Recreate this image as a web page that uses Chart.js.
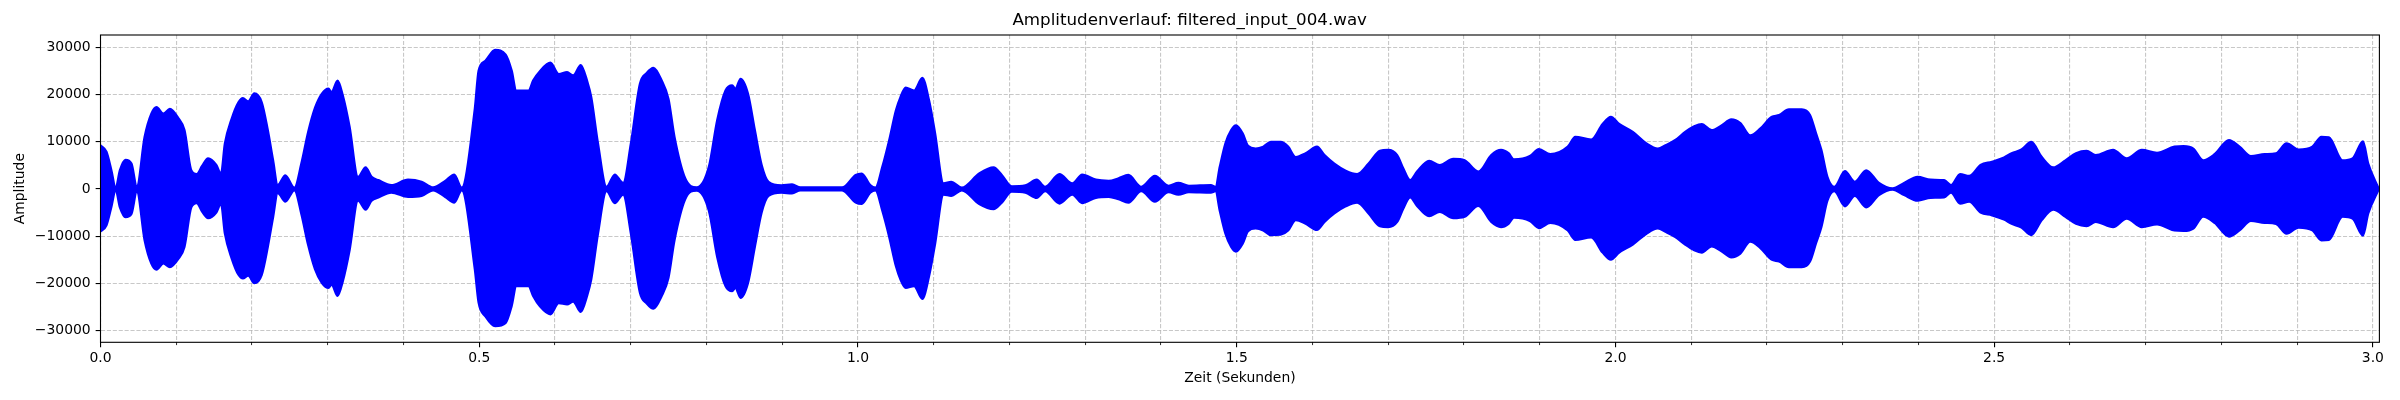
<!DOCTYPE html>
<html>
<head>
<meta charset="utf-8">
<script src="https://cdn.jsdelivr.net/npm/chart.js@4.4.1/dist/chart.umd.min.js"></script>
<style>
html,body{margin:0;padding:0;background:#ffffff;}
canvas{display:block;}
</style>
</head>
<body>
<canvas id="c" width="2400" height="400" style="width:2400px;height:400px"></canvas>
<script>
// ---- data (envelope of the waveform) ----
const times = [
  0, 0.008, 0.0145, 0.02, 0.0255, 0.033, 0.041, 0.048, 0.058, 0.067, 0.074, 0.083, 0.0916, 0.1026, 0.111, 0.12, 0.127, 0.134, 0.142, 0.153, 0.159, 0.164, 0.173, 0.182, 0.188, 0.195, 0.203, 0.213, 0.221, 0.228, 0.234, 0.244, 0.256, 0.265, 0.274, 0.283, 0.292, 0.301, 0.305, 0.313, 0.32, 0.329, 0.34, 0.35, 0.358, 0.367, 0.384, 0.406, 0.424, 0.439, 0.455, 0.467, 0.477, 0.494,
  0.499, 0.508, 0.521, 0.535, 0.543, 0.549, 0.565, 0.571, 0.58, 0.594, 0.605, 0.616, 0.624, 0.634, 0.643, 0.648, 0.657, 0.668, 0.679, 0.69, 0.7, 0.712, 0.721, 0.73, 0.741, 0.75, 0.758, 0.772, 0.787, 0.803, 0.814, 0.825, 0.834, 0.838, 0.845, 0.855, 0.864, 0.873, 0.882, 0.899, 0.913, 0.924, 0.979, 0.997,
  1.005, 1.0163, 1.023, 1.032, 1.041, 1.05, 1.056, 1.063, 1.074, 1.085, 1.094, 1.102, 1.113, 1.123, 1.137, 1.16, 1.179, 1.19, 1.203, 1.221, 1.236, 1.247, 1.266, 1.283, 1.296, 1.314, 1.331, 1.344, 1.357, 1.374, 1.392, 1.41, 1.423, 1.437, 1.466, 1.472, 1.4775, 1.485, 1.4926, 1.499,
  1.508, 1.515, 1.525, 1.535, 1.545, 1.558, 1.568, 1.578, 1.591, 1.606, 1.616, 1.629, 1.644, 1.659, 1.674, 1.689, 1.7, 1.712, 1.72, 1.729, 1.738, 1.754, 1.768, 1.786, 1.801, 1.819, 1.836, 1.849, 1.859, 1.866, 1.887, 1.899, 1.914, 1.937, 1.947, 1.968, 1.983, 1.994, 2.005, 2.023, 2.041, 2.056, 2.066, 2.079, 2.092, 2.104, 2.114, 2.127, 2.14, 2.153, 2.165, 2.178, 2.191, 2.206, 2.216, 2.229, 2.246,
  2.257, 2.265, 2.272, 2.28, 2.289, 2.303, 2.316, 2.331, 2.348, 2.366, 2.381, 2.399, 2.416, 2.434, 2.443, 2.455, 2.467, 2.482, 2.497, 2.513, 2.523, 2.536, 2.549, 2.563, 2.578, 2.594, 2.608, 2.622, 2.634, 2.657, 2.675, 2.695, 2.715, 2.738, 2.75, 2.763, 2.776, 2.791, 2.81, 2.824, 2.839, 2.857, 2.872, 2.886, 2.902, 2.92, 2.932, 2.942, 2.96, 2.973, 2.987, 2.994, 3.008
];
const upperEnvelope = [
  9300, 7900, 4000, 300, 4000, 6200, 5400, 600, 11000, 16000, 17400, 16000, 17000, 15100, 12500, 4000, 3200, 4900, 6500, 5100, 3300, 9600, 14900, 18400, 19300, 18600, 20300, 18400, 12500, 6100, 900, 2900, 300, 5400, 12100, 17200, 20200, 21300, 20600, 23000, 19900, 13200, 2600, 4600, 2600, 1900, 850, 2000, 1550, 350, 1750, 3100, 300, 17000,
  25100, 27200, 29500, 28500, 25100, 20900, 20900, 23000, 25000, 26800, 24400, 24800, 24100, 26300, 22700, 19500, 9600, 500, 3100, 1300, 9600, 22300, 24600, 25700, 23000, 19100, 11000, 2300, 350, 4700, 14600, 20900, 22000, 21300, 23400, 20200, 12500, 5100, 1550, 800, 1000, 350, 350, 3000,
  3300, 850, 300, 4700, 10300, 16700, 19500, 21500, 20900, 23600, 18800, 11800, 1200, 1550, 300, 3300, 4600, 3000, 600, 800, 2000, 500, 3200, 1200, 3100, 2000, 1750, 2300, 3000, 500, 2800, 700, 1300, 700, 850, 500, 4700, 9700, 12500, 13500,
  11800, 9200, 8600, 9000, 10000, 10000, 9000, 6800, 7600, 9000, 7200, 5400, 3900, 3200, 5400, 8100, 8300, 7200, 4400, 1900, 3700, 6000, 5100, 6400, 6100, 3700, 7200, 8300, 7600, 6300, 7000, 8500, 7400, 9000, 11100, 10500, 13800, 15300, 13800, 12100, 9700, 8600, 9300, 10400, 12100, 13300, 13800, 12500, 13500, 14800, 14000, 11400, 12800, 15300, 15700, 16900, 16900,
  15700, 11800, 8300, 2600, 500, 3800, 1550, 4000, 1300, 150, 1300, 2600, 2000, 1900, 850, 3200, 2800, 5100, 5800, 6700, 7600, 8400, 10000, 6800, 4600, 6100, 7600, 8100, 7200, 8300, 6500, 8300, 7700, 9000, 9100, 8600, 6100, 7400, 10400, 9000, 7000, 7400, 7600, 9700, 8400, 9000, 11100, 11000, 6100, 6500, 10100, 5400, 0
];
const lowerEnvelope = [
  -9000, -7700, -3800, -300, -3900, -6000, -5300, -600, -10800, -15800, -17100, -15800, -16600, -14900, -12300, -3900, -3000, -4800, -6200, -5000, -3200, -9400, -14700, -18200, -19000, -18400, -20000, -18200, -12300, -6000, -900, -2700, -300, -5300, -11900, -17000, -19900, -21000, -20300, -22700, -19600, -13000, -2500, -4400, -2500, -1800, -800, -1700, -1500, -300, -1700, -2900, -300, -17000,
  -24100, -27000, -29100, -28400, -24800, -20600, -20600, -22700, -24900, -26600, -24200, -24500, -23900, -26100, -22400, -19200, -9400, -500, -3000, -1200, -9400, -22000, -24300, -25400, -22700, -18800, -10800, -2200, -350, -4600, -14400, -20600, -21700, -21000, -23100, -19900, -12300, -5000, -1500, -800, -950, -300, -300, -2900,
  -3200, -800, -300, -4600, -10100, -16400, -19200, -21000, -20600, -23300, -18500, -11600, -1200, -1500, -300, -3200, -4300, -2900, -600, -800, -1900, -500, -3100, -1200, -3000, -1900, -1700, -2200, -2900, -500, -2700, -700, -1200, -700, -800, -500, -4600, -9500, -12300, -13300,
  -11600, -9000, -8400, -8800, -9800, -9700, -8800, -6600, -7400, -8700, -7000, -5200, -3700, -2900, -5200, -7900, -8100, -7000, -4200, -1800, -3600, -5800, -4900, -6200, -5900, -3600, -7000, -8100, -7400, -6100, -6800, -8300, -7200, -8800, -10800, -10300, -13500, -15000, -13500, -11800, -9500, -8400, -9100, -10200, -11800, -13000, -13500, -12200, -13200, -14500, -13700, -11200, -12500, -15000, -15400, -16600, -16600,
  -15400, -11500, -8100, -2500, -500, -3700, -1500, -3900, -1300, -150, -1300, -2500, -1900, -1800, -800, -3100, -2700, -5000, -5600, -6500, -7400, -8200, -9800, -6600, -4400, -5900, -7400, -7900, -7000, -8100, -6300, -8100, -7500, -8800, -8900, -8400, -5900, -7200, -10100, -8800, -6800, -7200, -7400, -9500, -8200, -8800, -10900, -10800, -5900, -6300, -9900, -5200, 0
];
const xMajorTicks = [0, 0.5, 1.0, 1.5, 2.0, 2.5, 3.0];
const xMinorTicks = [0.1, 0.2, 0.3, 0.4, 0.6, 0.7, 0.8, 0.9, 1.1, 1.2, 1.3, 1.4, 1.6, 1.7, 1.8, 1.9, 2.1, 2.2, 2.3, 2.4, 2.6, 2.7, 2.8, 2.9];
const yTicks = [-30000, -20000, -10000, 0, 10000, 20000, 30000];
const xLimits = [0, 3.0086];
const yLimits = [-32500, 32650];
const titleText = 'Amplitudenverlauf: filtered_input_004.wav';
const xLabel = 'Zeit (Sekunden)';
const yLabel = 'Amplitude';

// ---- chart ----
Chart.defaults.font.family = "'DejaVu Sans', 'Liberation Sans', sans-serif";
Chart.defaults.color = '#000000';

const GRID_COLOR = 'rgba(176,176,176,0.7)';
const GRID_DASH = [4.1, 1.8];

const upperPts = times.map((t, i) => ({x: t, y: upperEnvelope[i]}));
const lowerPts = times.map((t, i) => ({x: t, y: lowerEnvelope[i]}));

const frame = {
  id: 'frame',
  afterDatasetsDraw(chart) {
    const a = chart.chartArea, ctx = chart.ctx;
    ctx.save();
    ctx.strokeStyle = '#000000';
    ctx.lineWidth = 1.1;
    ctx.setLineDash([]);
    ctx.strokeRect(a.left, a.top, a.right - a.left, a.bottom - a.top);
    ctx.restore();
  }
};

const minusFmt = v => (v < 0 ? '\u2212' + Math.abs(v) : String(v));

new Chart(document.getElementById('c'), {
  type: 'line',
  data: {
    datasets: [
      {
        data: upperPts, borderColor: '#0000ff', backgroundColor: '#0000ff',
        borderWidth: 2, pointRadius: 0, fill: '+1', cubicInterpolationMode: 'monotone',
        xAxisID: 'x', yAxisID: 'y'
      },
      {
        data: lowerPts, borderColor: '#0000ff', backgroundColor: '#0000ff',
        borderWidth: 2, pointRadius: 0, fill: false, cubicInterpolationMode: 'monotone',
        xAxisID: 'x', yAxisID: 'y'
      }
    ]
  },
  options: {
    responsive: false,
    devicePixelRatio: 1,
    animation: false,
    events: [],
    layout: {padding: {left: 0, right: 20.6, top: 0, bottom: 0}},
    plugins: {
      legend: {display: false},
      tooltip: {enabled: false},
      title: {
        display: true, text: titleText, color: '#000000',
        font: {size: 16.7, weight: 'normal'},
        padding: {top: 11, bottom: 3.96}
      }
    },
    scales: {
      xMinor: {
        type: 'linear', position: 'bottom', weight: 0,
        min: xLimits[0], max: xLimits[1],
        afterBuildTicks: s => { s.ticks = xMinorTicks.map(v => ({value: v})); },
        ticks: {display: false},
        grid: {color: GRID_COLOR, lineWidth: 1.1, drawTicks: true, tickLength: 2.8, tickColor: '#000000', tickWidth: 0.83},
        border: {display: false, dash: GRID_DASH},
        afterFit: s => { s.height = 0; }
      },
      x: {
        type: 'linear', position: 'bottom', weight: 1,
        min: xLimits[0], max: xLimits[1],
        afterBuildTicks: s => { s.ticks = xMajorTicks.map(v => ({value: v})); },
        ticks: {callback: v => Number(v).toFixed(1), color: '#000000', font: {size: 13.9}, padding: 2.8, maxRotation: 0, autoSkip: false},
        grid: {color: GRID_COLOR, lineWidth: 1.1, drawTicks: true, tickLength: 4.86, tickColor: '#000000', tickWidth: 1.1},
        border: {display: false, dash: GRID_DASH},
        title: {display: true, text: xLabel, color: '#000000', font: {size: 13.9}, padding: {top: 0, bottom: 13.7}},
        afterFit: s => { s.height = 57.7; }
      },
      y: {
        type: 'linear', position: 'left',
        min: yLimits[0], max: yLimits[1],
        afterBuildTicks: s => { s.ticks = yTicks.map(v => ({value: v})); },
        ticks: {callback: minusFmt, color: '#000000', font: {size: 13.9}, padding: 5},
        grid: {color: GRID_COLOR, lineWidth: 1.1, drawTicks: true, tickLength: 4.86, tickColor: '#000000', tickWidth: 1.1},
        border: {display: false, dash: GRID_DASH},
        title: {display: true, text: yLabel, color: '#000000', font: {size: 13.9}, padding: {top: 11.7, bottom: 0}},
        afterFit: s => { s.width = 100.5; }
      }
    }
  },
  plugins: [frame]
});
</script>
</body>
</html>
